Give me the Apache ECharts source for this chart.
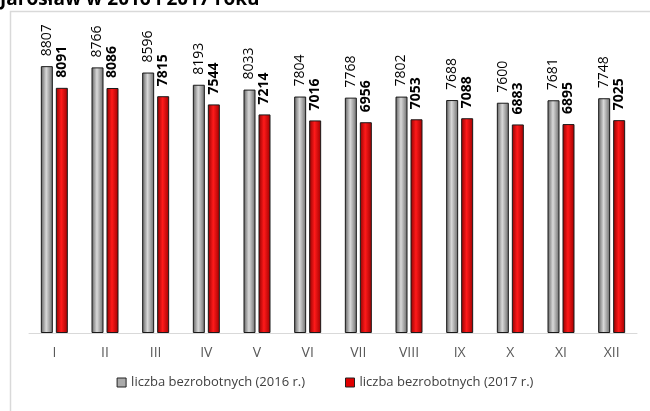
<!DOCTYPE html>
<html>
<head>
<meta charset="utf-8">
<script src="https://cdn.jsdelivr.net/npm/echarts@6/dist/echarts.min.js"></script>
<style>
  html, body { margin: 0; padding: 0; background: #fff; }
  #chart { width: 650px; height: 411px; }
</style>
</head>
<body>
<div id="chart"></div>
<script>
  // months
  let categories = ['I', 'II', 'III', 'IV', 'V', 'VI', 'VII', 'VIII', 'IX', 'X', 'XI', 'XII']
  let data2016 = [8807, 8766, 8596, 8193, 8033, 7804, 7768, 7802, 7688, 7600, 7681, 7748]
  let data2017 = [8091, 8086, 7815, 7544, 7214, 7016, 6956, 7053, 7088, 6883, 6895, 7025]
  let seriesNames = ['liczba bezrobotnych (2016 r.)', 'liczba bezrobotnych (2017 r.)']

  let font = '"Open Sans", "Liberation Sans", sans-serif'

  let grayFill = new echarts.graphic.LinearGradient(0, 0, 1, 0, [
    { offset: 0, color: '#5e5e5e' },
    { offset: 0.45, color: '#d9d9d9' },
    { offset: 1, color: '#6a6a6a' }
  ])
  let redFill = new echarts.graphic.LinearGradient(0, 0, 1, 0, [
    { offset: 0, color: '#900000' },
    { offset: 0.45, color: '#ff1a1a' },
    { offset: 1, color: '#a00000' }
  ])

  let dom = echarts.init(document.getElementById('chart'))
  let option = {
    animation: false,
    textStyle: { fontFamily: font },
    graphic: [
      {
        type: 'rect',
        shape: { x: 10.5, y: 11.5, width: 700, height: 500 },
        style: { fill: 'none', stroke: '#d9d9d9', lineWidth: 1.5 },
        silent: true
      },
      {
        type: 'text',
        left: 0,
        top: -10,
        style: { text: 'Jarosław w 2016 i 2017 roku', font: 'bold 19px ' + font, fill: '#000' }
      }
    ],
    grid: { left: 29, right: 13, top: 30, bottom: 78 },
    legend: {
      bottom: 17,
      left: 'center',
      itemGap: 40,
      itemWidth: 9,
      itemHeight: 9,
      textStyle: { fontSize: 13, color: '#404040', fontFamily: font },
      data: [
        { name: seriesNames[0], icon: 'rect', itemStyle: { color: '#aaaaaa', borderColor: '#222', borderWidth: 1 } },
        { name: seriesNames[1], icon: 'rect', itemStyle: { color: '#e00000', borderColor: '#222', borderWidth: 1 } }
      ]
    },
    xAxis: {
      type: 'category',
      data: categories,
      axisLine: { lineStyle: { color: '#d9d9d9', width: 1 } },
      axisTick: { show: false },
      axisLabel: { color: '#595959', fontSize: 14, margin: 13, fontFamily: font }
    },
    yAxis: {
      type: 'value',
      min: 0,
      max: 10000,
      show: false,
      splitLine: { show: false }
    },
    series: [
      {
        name: seriesNames[0],
        type: 'bar',
        data: data2016,
        barWidth: 12,
        barGap: '25%',
        itemStyle: { color: grayFill, borderColor: '#1a1a1a', borderWidth: 1 },
        label: {
          show: true,
          position: 'top',
          rotate: 90,
          align: 'left',
          verticalAlign: 'middle',
          distance: 10,
          fontSize: 14,
          color: '#000',
          fontFamily: font
        }
      },
      {
        name: seriesNames[1],
        type: 'bar',
        data: data2017,
        barWidth: 12,
        itemStyle: { color: redFill, borderColor: '#1a1a1a', borderWidth: 1 },
        label: {
          show: true,
          position: 'top',
          rotate: 90,
          align: 'left',
          verticalAlign: 'middle',
          distance: 10,
          fontSize: 14,
          fontWeight: 'bold',
          color: '#000',
          fontFamily: font
        }
      }
    ]
  }
  dom.setOption(option)
</script>
</body>
</html>
